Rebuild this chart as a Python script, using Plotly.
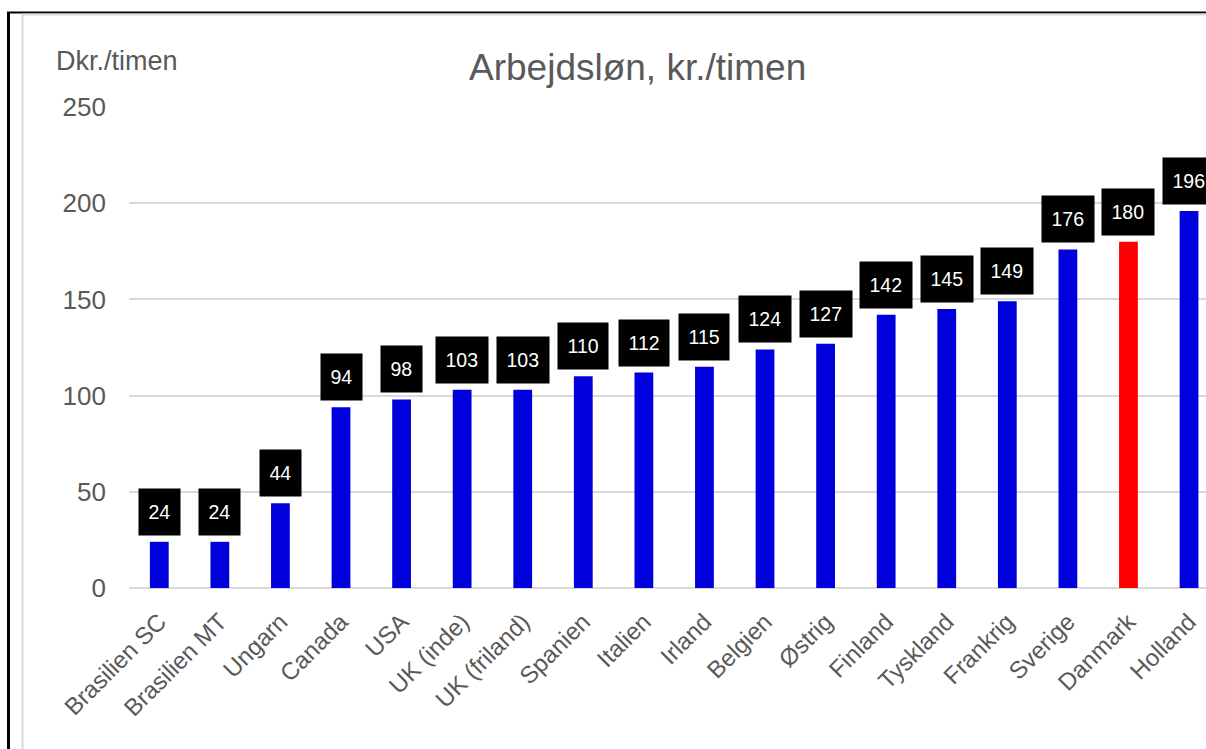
import plotly.graph_objects as go

categories = ["Brasilien SC", "Brasilien MT", "Ungarn", "Canada", "USA", "UK (inde)",
              "UK (friland)", "Spanien", "Italien", "Irland", "Belgien", "Østrig",
              "Finland", "Tyskland", "Frankrig", "Sverige", "Danmark", "Holland"]
values = [24, 24, 44, 94, 98, 103, 103, 110, 112, 115, 124, 127, 142, 145, 149, 176, 180, 196]
highlight = "Danmark"
y_ticks = [0, 50, 100, 150, 200, 250]

BLUE = "#0000DD"
RED = "#FF0000"
GRAY_TEXT = "#595959"
GRID = "#D9D9D9"
FONT = "Liberation Sans, Arial, sans-serif"

colors = [RED if c == highlight else BLUE for c in categories]

fig = go.Figure()
fig.add_trace(go.Bar(
    x=categories, y=values, marker=dict(color=colors, line=dict(width=0)),
    hoverinfo="x+y", showlegend=False,
))

annotations = []
for c, v in zip(categories, values):
    annotations.append(dict(
        x=c, y=v, xref="x", yref="y", text=str(v), showarrow=False,
        yanchor="bottom", xanchor="center", yshift=6,
        font=dict(family=FONT, size=19.5, color="white"),
        bgcolor="black", borderpad=9.5, height=27,
    ))

# Title and y-axis caption (pixel positions, converted below)
annotations.append(dict(
    x=637, y=68, xref="paper", yref="paper", text="Arbejdsløn, kr./timen",
    showarrow=False, xanchor="center", yanchor="middle",
    font=dict(family=FONT, size=37, color=GRAY_TEXT),
))
annotations.append(dict(
    x=54, y=61, xref="paper", yref="paper", text="Dkr./timen",
    showarrow=False, xanchor="left", yanchor="middle",
    font=dict(family=FONT, size=27, color=GRAY_TEXT),
))

L, T, B, W, H = 129, 107, 161, 1206, 749
pw, ph = W - L, H - T - B

def px(xp):
    return (xp - L) / pw

def py(yp):
    return (H - B - yp) / ph

for a in annotations[-2:]:
    a["x"] = px(a["x"])
    a["y"] = py(a["y"])

shapes = [
    dict(type="line", xref="paper", yref="paper", x0=px(8.5), x1=px(8.5), y0=py(12), y1=py(760),
         line=dict(color="black", width=3)),
    dict(type="line", xref="paper", yref="paper", x0=px(7), x1=px(1220), y0=py(12.5), y1=py(12.5),
         line=dict(color="black", width=2)),
    dict(type="line", xref="paper", yref="paper", x0=px(22.5), x1=px(22.5), y0=py(14), y1=py(760),
         line=dict(color=GRID, width=2)),
    dict(type="line", xref="paper", yref="paper", x0=px(22), x1=px(1220), y0=py(14.5), y1=py(14.5),
         line=dict(color=GRID, width=2)),
]

fig.update_layout(
    width=W, height=H,
    margin=dict(l=L, r=0, t=T, b=B),
    paper_bgcolor="white", plot_bgcolor="white",
    bargap=0.69,
    annotations=annotations,
    shapes=shapes,
    xaxis=dict(
        range=[-0.5, 17.28], tickangle=-45,
        tickfont=dict(family=FONT, size=24, color=GRAY_TEXT),
        showgrid=False, showline=False, zeroline=False, ticks="",
        ticklabelstandoff=14,
        fixedrange=True,
    ),
    yaxis=dict(
        range=[0, 250], tickvals=y_ticks,
        tickfont=dict(family=FONT, size=26, color=GRAY_TEXT),
        showgrid=True, gridcolor=GRID, gridwidth=2,
        zeroline=True, zerolinecolor=GRID, zerolinewidth=2,
        showline=False, ticks="", ticklabelstandoff=22,
        fixedrange=True,
    ),
)

fig.write_html(
    "out.html",
    config={"displayModeBar": False},
    post_script="document.body.style.margin='0';document.body.style.overflow='hidden';",
)
